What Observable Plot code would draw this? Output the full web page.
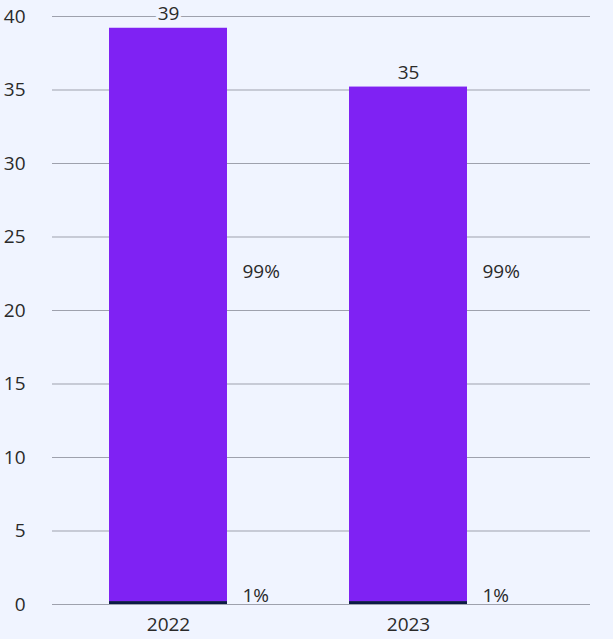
<!DOCTYPE html>
<html><head><meta charset="utf-8">
<script src="https://cdn.jsdelivr.net/npm/d3@7"></script>
<script src="https://cdn.jsdelivr.net/npm/@observablehq/plot@0.6"></script>
<style>
html,body{margin:0;padding:0;background:#f0f4ff;}
</style></head><body>
<div id="chart"></div>
<script>
const years = ["2022", "2023"];
const mainValues = [39.0, 35.0];
const smallValues = [0.2, 0.2];
const totalLabels = ["39", "35"];
const mainShareLabels = ["99%", "99%"];
const smallShareLabels = ["1%", "1%"];
const yTicks = [0, 5, 10, 15, 20, 25, 30, 35, 40];

const segs = [];
years.forEach((y, i) => {
  segs.push({year: y, part: "small", value: smallValues[i]});
  segs.push({year: y, part: "main", value: mainValues[i]});
});
const totals = years.map((y, i) => ({year: y, total: smallValues[i] + mainValues[i], label: totalLabels[i]}));
const shares = years.map((y, i) => ({year: y, main: mainShareLabels[i], small: smallShareLabels[i]}));

const font = "'Open Sans', 'Noto Sans', sans-serif";
const fs = 19;
const chart = Plot.plot({
  width: 613, height: 639,
  marginLeft: 52, marginRight: 23, marginTop: 16, marginBottom: 35,
  style: {background: "#f0f4ff", fontFamily: font, fontSize: fs + "px", color: "#2a2a2a"},
  x: {domain: years, range: [48, 528], paddingInner: 0.508, paddingOuter: 0.254, label: null},
  y: {domain: [0, 40], ticks: yTicks, label: null},
  color: {domain: ["small", "main"], range: ["#0c1a45", "#7f22f3"]},
  marks: [
    Plot.ruleY(yTicks, {stroke: "#9ea1ad", strokeWidth: 1}),
    Plot.barY(segs, Plot.stackY({x: "year", y: "value", fill: "part", order: ["small", "main"]})),
    Plot.text(totals, {x: "year", y: "total", text: "label", dy: -14, fill: "#2a2a2a", fontSize: fs, stroke: "#f0f4ff", strokeWidth: 6}),
    Plot.text(shares, {x: "year", y: () => 22.6, text: "main", dx: 74, textAnchor: "start", fill: "#2a2a2a", fontSize: fs}),
    Plot.text(shares, {x: "year", y: () => 0, text: "small", dx: 74, dy: -9, textAnchor: "start", fill: "#2a2a2a", fontSize: fs}),
    Plot.axisY({ticks: yTicks, tickSize: 0, tickPadding: 27, fontSize: fs, fill: "#2a2a2a"}),
    Plot.axisX({tickSize: 0, tickPadding: 13, fontSize: fs, fill: "#2a2a2a"})
  ]
});
document.getElementById("chart").appendChild(chart);
</script>
</body></html>
